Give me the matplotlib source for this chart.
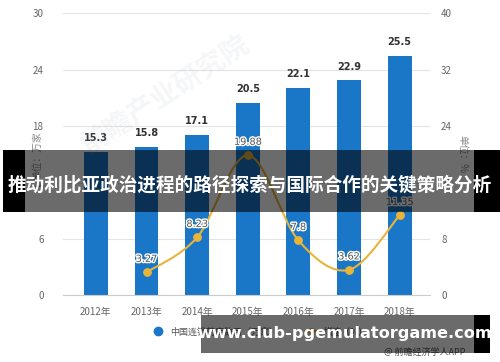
import numpy as np
import matplotlib.pyplot as plt
import matplotlib.patheffects as pe
from matplotlib.path import Path
from matplotlib.patches import PathPatch, Rectangle
from matplotlib.lines import Line2D

plt.rcParams['font.family'] = ['Noto Sans CJK SC', 'DejaVu Sans']

years = ['2012年', '2013年', '2014年', '2015年', '2016年', '2017年', '2018年']
stores = [15.3, 15.8, 17.1, 20.5, 22.1, 22.9, 25.5]
growth_years = [1, 2, 3, 4, 5, 6]
growth = [3.27, 8.23, 19.88, 7.8, 3.62, 11.35]
growth_labels = ['3.27', '8.23', '19.88', '7.8', '3.62', '11.35']

BLUE = '#1a76c6'
GOLD = '#e8b43a'
GRAY = '#666666'

fig = plt.figure(figsize=(5, 3.62), dpi=100)
ax = fig.add_axes([0.126, 0.184, 0.734, 0.779])
ax2 = ax.twinx()

x = np.arange(len(years))
ax.bar(x, stores, width=0.47, color=BLUE, zorder=2)
for xi, v in zip(x, stores):
    ax.text(xi, v + 0.9, str(v), ha='center', va='bottom', fontsize=7,
            fontweight='bold', color='#333333', family='DejaVu Sans')

ax.set_xlim(-0.65, 6.6)
ax.set_ylim(0, 30)
ax.set_yticks([0, 6, 12, 18, 24, 30])
ax.set_xticks(x)
ax.set_xticklabels(years)
ax.grid(axis='y', color='#e3e3e3', linewidth=0.8, zorder=0)
ax.set_axisbelow(True)
for s in ['top', 'right', 'left']:
    ax.spines[s].set_visible(False)
ax.spines['bottom'].set_color('#cccccc')
ax.tick_params(axis='both', colors=GRAY, labelsize=7, length=0, pad=8)
ax.tick_params(axis='y', pad=14)

ax2.set_ylim(0, 40)
ax2.set_yticks([0, 8, 16, 24, 32, 40])
for s in ax2.spines.values():
    s.set_visible(False)
ax2.tick_params(axis='y', colors=GRAY, labelsize=7, length=0, pad=8)

# smooth curve via cubic bezier segments (catmull-rom control points)
gx = np.array(growth_years, dtype=float)
gy = np.array(growth, dtype=float)
verts = [(gx[0], gy[0])]
codes = [Path.MOVETO]
n = len(gx)
for i in range(n - 1):
    p0 = (gx[max(i - 1, 0)], gy[max(i - 1, 0)])
    p1 = (gx[i], gy[i])
    p2 = (gx[i + 1], gy[i + 1])
    p3 = (gx[min(i + 2, n - 1)], gy[min(i + 2, n - 1)])
    c1 = (p1[0] + (p2[0] - p0[0]) / 6, p1[1] + (p2[1] - p0[1]) / 6)
    c2 = (p2[0] - (p3[0] - p1[0]) / 6, p2[1] - (p3[1] - p1[1]) / 6)
    verts += [c1, c2, p2]
    codes += [Path.CURVE4] * 3
ax2.add_patch(PathPatch(Path(verts, codes), fill=False, edgecolor=GOLD,
                        linewidth=1.5, zorder=3))
ax2.scatter(growth_years, growth, s=28, color=GOLD, zorder=4)
for xi, v, lab in zip(growth_years, growth, growth_labels):
    ax2.text(xi, v + 1.2, lab, ha='center', va='bottom', fontsize=7,
             color='#555555', family='DejaVu Sans', zorder=5,
             path_effects=[pe.withStroke(linewidth=2, foreground='white')])

fig.text(0.074, 0.57, '单位：万家', rotation=90, ha='center', va='center',
         fontsize=7, color='#888888')
fig.text(0.924, 0.575, '单位：%', rotation=270, ha='center', va='center',
         fontsize=7, color='#888888')

# watermark
fig.text(0.33, 0.74, '前瞻产业研究院', rotation=33, ha='center', va='center',
         fontsize=20, color='#b0b8c8', alpha=0.12, fontweight='bold')

# legend
leg_handles = [
    Line2D([], [], marker='o', linestyle='none', color=BLUE, markersize=6),
    Line2D([], [], marker='o', color=GOLD, markersize=4, linewidth=1.5),
]
fig.legend(leg_handles, ['中国连锁药店数目（万家）', '增速（%）'], loc='center',
           bbox_to_anchor=(0.52, 0.083), ncol=2, frameon=False, fontsize=6.5,
           handlelength=1.2, columnspacing=3, labelcolor='#555555')
fig.text(0.93, 0.027, '@ 前瞻经济学人APP', ha='right', va='center',
         fontsize=6.5, color='#555555')

# overlay banners
fig.patches.append(Rectangle((0.006, 0.414), 0.044, 0.171, transform=fig.transFigure,
                             facecolor='black', zorder=10))
fig.patches.append(Rectangle((0.05, 0.414), 0.898, 0.171, transform=fig.transFigure,
                             facecolor='black', alpha=0.58, zorder=10))
fig.patches.append(Rectangle((0.948, 0.414), 0.052, 0.171, transform=fig.transFigure,
                             facecolor='black', zorder=10))
fig.text(0.5, 0.49, '推动利比亚政治进程的路径探索与国际合作的关键策略分析',
         ha='center', va='center', fontsize=13.4, fontweight='bold', color='white',
         zorder=11)

fig.patches.append(Rectangle((0.402, 0.025), 0.546, 0.105, transform=fig.transFigure,
                             facecolor='black', alpha=0.58, zorder=10))
fig.patches.append(Rectangle((0.948, 0.025), 0.032, 0.105, transform=fig.transFigure,
                             facecolor='black', zorder=10))
fig.text(0.69, 0.078, 'www.club-pgemulatorgame.com', ha='center', va='center',
         fontsize=11.6, fontweight='bold', color='white', family='DejaVu Sans',
         zorder=11)

fig.savefig('out.png', dpi=100)
